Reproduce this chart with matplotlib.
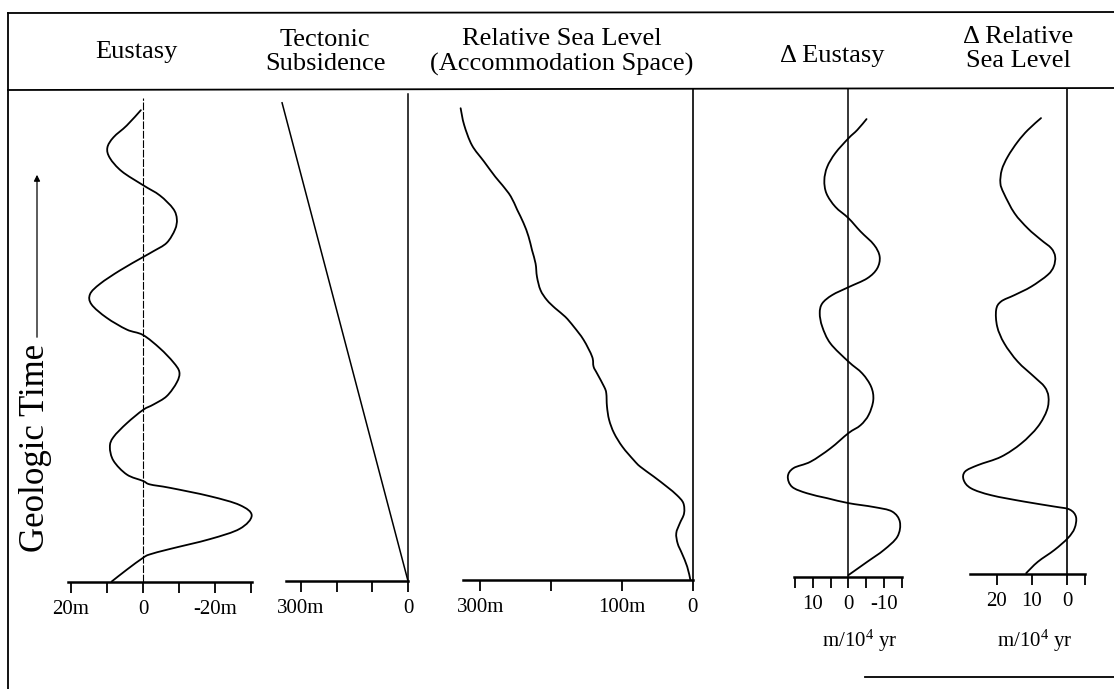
import matplotlib
matplotlib.use('Agg')
import matplotlib.pyplot as plt
from matplotlib.lines import Line2D
from matplotlib.patches import FancyArrowPatch, PathPatch
from matplotlib.path import Path

plt.rcParams['font.family'] = ['Liberation Serif', 'DejaVu Serif']
plt.rcParams['mathtext.fontset'] = 'custom'
plt.rcParams['mathtext.rm'] = 'Liberation Serif'
plt.rcParams['mathtext.default'] = 'rm'

# ---------------- data (time in arbitrary units, 0 = base) ----------------
eustasy_time = [95.7, 92.6, 90.2, 88.1, 86.0, 83.3, 80.5, 78.4, 75.7, 73.6,
                71.5, 68.8, 67.1, 65.9, 63.2, 60.5, 58.4, 56.3, 53.6, 51.2,
                50.1, 47.4, 44.6, 42.6, 40.5, 37.7, 36.0, 34.9, 32.2, 29.4,
                27.4, 24.6, 21.8, 20.5, 19.8, 19.1, 17.4, 15.6, 13.5, 10.8,
                8.7, 6.7, 5.6, 4.9, 2.5, 0.1]
eustasy_m = [0.6, 4.5, 8.2, 9.9, 9.2, 5.9, 0, -4.7, -8.4, -9.4,
             -8.9, -6.6, -2.9, 0, 6.4, 11.9, 14.7, 14.3, 10.1, 4.5,
             0, -4.7, -8.4, -10.1, -9.4, -6.6, -2.9, 0, 4.5, 8.2,
             9.2, 8.2, 4.5, 0, -1.9, -7.5, -18.6, -26.9, -30.2, -26.9,
             -18.6, -7.5, -1.9, 0, 4.5, 8.7]

subsidence_time = [97.2, 0.2]
subsidence_m = [353, 0]

rsl_time = [96.1, 92.7, 88.6, 85.3, 82.2, 80.5, 78.2, 75.5, 72.8, 70.1,
            67.3, 64.6, 61.9, 59.2, 57.2, 55.5, 53.8, 51.8, 49.1, 45.7,
            43.7, 42.3, 39.6, 38.3, 35.6, 32.9, 30.2, 27.4, 24.7, 23.4,
            21.4, 19.3, 17.6, 16.0, 13.9, 11.9, 9.9, 7.8, 5.8, 3.1, 0.4]
rsl_m = [328, 323, 312, 295, 279, 269, 257, 248, 239, 232,
         227, 222, 220, 215, 206, 194, 180, 168, 154, 142,
         140, 135, 125, 122, 121, 118, 111, 99, 83, 74,
         55, 36, 22, 13, 12, 18, 23, 21, 15, 7.5, 3]

d_eustasy_time = [93.9, 91.7, 90.0, 87.0, 84.2, 81.5, 78.8, 76.1, 73.8, 71.1,
                  68.4, 66.0, 63.6, 61.6, 59.8, 58.2, 56.5, 54.5, 51.8, 48.4,
                  44.7, 42.3, 39.6, 36.9, 33.9, 31.8, 30.2, 27.1, 24.4, 23.1,
                  21.4, 19.3, 18.0, 17.0, 16.0, 15.2, 14.3, 12.2, 9.2, 6.5,
                  4.1, 1.4]
d_eustasy_rate = [-5.1, -2.5, 0, 3.7, 6.0, 6.8, 6.2, 3.7, 0, -3.4,
                  -7.2, -8.8, -8.1, -5.3, 0, 4.6, 7.4, 8.1, 7.4, 5.1,
                  0, -3.9, -6.4, -7.0, -5.7, -3.4, 0, 5.1, 10.7, 15.5,
                  17.1, 15.9, 11.7, 6.0, 0, -7.2, -12.3, -14.5, -13.8, -10.0,
                  -5.3, 0]

d_rsl_time = [94.1, 91.7, 89.3, 86.3, 83.6, 80.9, 78.8, 74.8, 71.7, 69.4,
              67.7, 66.0, 64.0, 62.3, 59.9, 58.2, 56.9, 55.2, 51.8, 48.4,
              44.7, 41.6, 39.6, 37.6, 34.9, 31.5, 28.1, 25.4, 23.7, 22.4,
              20.7, 19.0, 17.6, 16.3, 15.3, 14.7, 13.2, 10.9, 8.9, 6.5,
              4.1, 1.8]
d_rsl_rate = [7.4, 11.1, 14.0, 16.8, 18.5, 18.9, 17.9, 14.9, 11.1, 7.4,
              4.5, 3.4, 3.8, 5.5, 10.2, 14.9, 18.7, 20.1, 19.8, 17.8,
              14.0, 9.3, 6.4, 5.3, 5.7, 8.3, 13.0, 18.7, 25.3, 28.9,
              29.3, 27.2, 21.5, 12.1, 3.6, -0.7, -2.5, -2.1, -0.2, 3.6,
              8.3, 11.6]

headers = ["Eustasy", "Tectonic\nSubsidence",
           "Relative Sea Level\n(Accommodation Space)",
           "\u0394 Eustasy", "\u0394 Relative\nSea Level"]

eu_ticks = [20, 10, 0, -10, -20, -30]
eu_labels = ["20m", "", "0", "", "-20m", ""]
ts_ticks = [300, 200, 100, 0]
ts_labels = ["300m", "", "", "0"]
rsl_ticks = [300, 200, 100, 0]
rsl_labels = ["300m", "", "100m", "0"]
de_ticks = [15, 10, 5, 0, -5, -10, -15]
de_labels = ["", "10", "", "0", "", "-10", ""]
dr_ticks = [20, 10, 0, -5]
dr_labels = ["20", "10", "0", ""]
rate_unit = r"m/10$^{4}$ yr"

# ---------------- layout ----------------
W, H = 1114, 689
fig = plt.figure(figsize=(W / 100, H / 100), dpi=100)
TOP, BASE = 89, 582


def fx(x):
    return x / W


def fy(y):
    return 1 - y / H


def make_axes(x0, x1, xlim, ticks, labels, spine_t, bounds):
    ax = fig.add_axes([fx(x0), fy(BASE), (x1 - x0) / W, (BASE - TOP) / H])
    ax.set_facecolor('none')
    ax.set_xlim(*xlim)
    ax.set_ylim(0, 100)
    for s in ('left', 'right', 'top'):
        ax.spines[s].set_visible(False)
    sp = ax.spines['bottom']
    sp.set_position(('data', spine_t))
    sp.set_bounds(*bounds)
    sp.set_linewidth(1.8)
    ax.set_yticks([])
    ax.set_xticks(ticks)
    ax.set_xticklabels(labels)
    ax.tick_params(axis='x', direction='out', length=8, width=1.3, pad=5,
                   labelsize=15)
    return ax


def smooth_curve(ax, xs, ys, lw=1.3):
    """Draw the read points as a smooth (Catmull-Rom style) Bezier path."""
    pts = list(zip(xs, ys))
    n = len(pts)
    verts = [pts[0]]
    codes = [Path.MOVETO]
    for i in range(n - 1):
        p0 = pts[i - 1] if i > 0 else pts[i]
        p1 = pts[i]
        p2 = pts[i + 1]
        p3 = pts[i + 2] if i + 2 < n else pts[i + 1]
        c1 = (p1[0] + (p2[0] - p0[0]) / 6.0, p1[1] + (p2[1] - p0[1]) / 6.0)
        c2 = (p2[0] - (p3[0] - p1[0]) / 6.0, p2[1] - (p3[1] - p1[1]) / 6.0)
        verts += [c1, c2, p2]
        codes += [Path.CURVE4] * 3
    ax.add_patch(PathPatch(Path(verts, codes), fill=False, edgecolor='black',
                           lw=lw, clip_on=False, capstyle='round',
                           joinstyle='round'))


lw = 1.3
# Panel 1: Eustasy
ax1 = make_axes(70, 253, (20.28, -30.56), eu_ticks, eu_labels, 0, (20.8, -30.2))
ax1.axvline(0, ymin=0, ymax=(BASE - 98) / (BASE - TOP), color='black', lw=0.8,
            ls=(0, (7, 1.5)))
smooth_curve(ax1, eustasy_m, eustasy_time)

# Panel 2: Tectonic subsidence
ax2 = make_axes(282, 410, (353.2, -5.6), ts_ticks, ts_labels, 0.2, (342, 0))
ax2.axvline(0, ymin=0.002, ymax=(BASE - 94) / (BASE - TOP), color='black', lw=1.1)
ax2.plot(subsidence_m, subsidence_time, color='black', lw=1.1, clip_on=False)

# Panel 3: Relative sea level
ax3 = make_axes(459, 695, (330.3, -3.5), rsl_ticks, rsl_labels, 0.4, (325, 0))
ax3.axvline(0, ymin=0.004, ymax=1, color='black', lw=1.2)
smooth_curve(ax3, rsl_m, rsl_time)

# Panel 4: Delta eustasy
ax4 = make_axes(785, 902, (17.9, -15.1), de_ticks, de_labels, 1.0, (15.5, -15))
ax4.axvline(0, ymin=0.01, ymax=1, color='black', lw=1.1)
smooth_curve(ax4, d_eustasy_rate, d_eustasy_time)

# Panel 5: Delta relative sea level
ax5 = make_axes(958, 1088, (30.9, -5.9), dr_ticks, dr_labels, 1.6, (27.5, -5))
ax5.axvline(0, ymin=0.016, ymax=1, color='black', lw=1.2)
smooth_curve(ax5, d_rsl_rate, d_rsl_time)

# units
fig.text(fx(860), fy(641), rate_unit, ha='center', va='center', fontsize=15)
fig.text(fx(1035), fy(641), rate_unit, ha='center', va='center', fontsize=15)

# headers
hfs = 19
fig.text(fx(136), fy(52), headers[0], ha='center', va='center', fontsize=hfs)
fig.text(fx(325), fy(52), headers[1], ha='center', va='center', fontsize=hfs,
         linespacing=1.15)
fig.text(fx(562), fy(52), headers[2], ha='center', va='center', fontsize=hfs,
         linespacing=1.15)
fig.text(fx(832), fy(56), headers[3], ha='center', va='center', fontsize=hfs)
fig.text(fx(1018), fy(49), headers[4], ha='center', va='center', fontsize=hfs,
         linespacing=1.15)

# geologic time label + arrow
fig.text(fx(36), fy(448), "Geologic Time", rotation=90, ha='center',
         va='center', fontsize=25)
fig.add_artist(FancyArrowPatch((fx(37), fy(340)), (fx(37), fy(172)),
                               transform=fig.transFigure, arrowstyle='-|>',
                               mutation_scale=9, lw=0.9, color='black'))

# frame lines
frame = [((8, 1114), (13, 12)), ((8, 1114), (90, 88)), ((8, 8), (13, 689)),
         ((865, 1114), (677, 677))]
for xs, ys in frame:
    fig.add_artist(Line2D([fx(xs[0]), fx(xs[1])], [fy(ys[0]), fy(ys[1])],
                          transform=fig.transFigure, color='black', lw=1.3))

fig.savefig('out.png', dpi=100, facecolor='white')
